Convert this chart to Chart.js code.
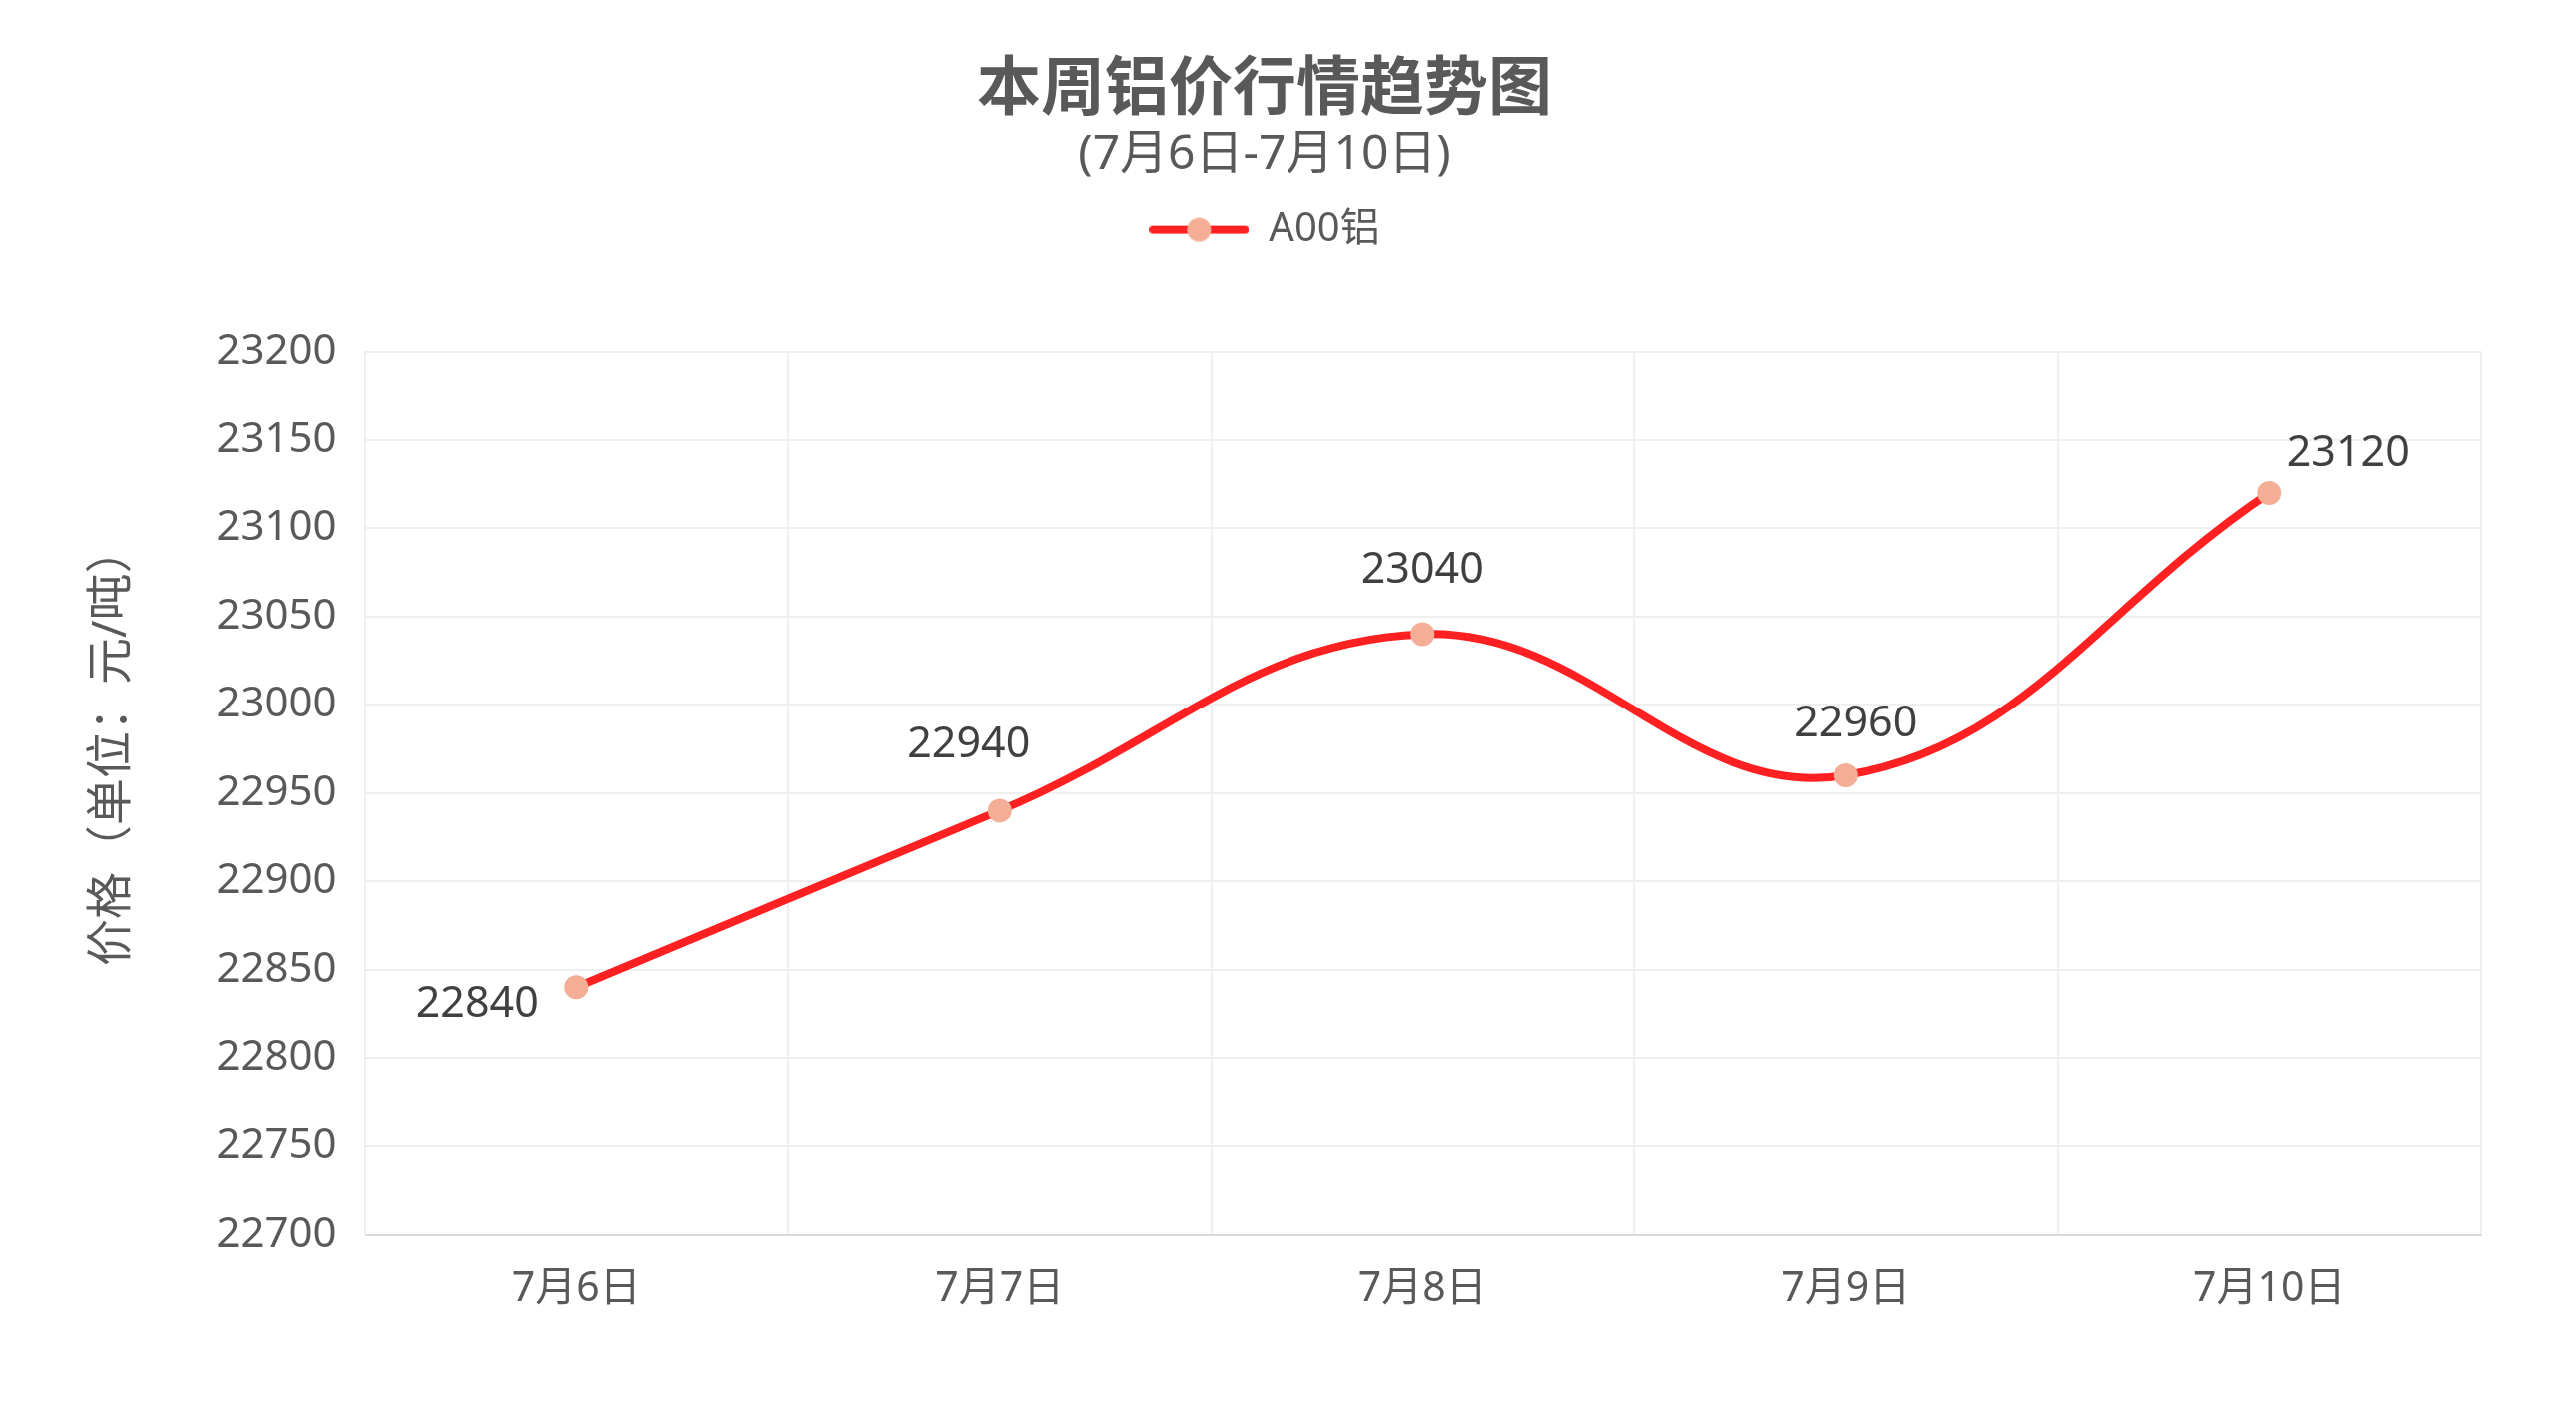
<!DOCTYPE html>
<html>
<head>
<meta charset="utf-8">
<script src="https://cdn.jsdelivr.net/npm/chart.js@4.4.1/dist/chart.umd.min.js"></script>
<style>
  html, body { margin: 0; padding: 0; background: #fff; }
</style>
</head>
<body>
<canvas id="priceChart" width="2577" height="1417"></canvas>
<script>
// chart data
const days = ['7月6日', '7月7日', '7月8日', '7月9日', '7月10日'];
const a00Prices = [22840, 22940, 23040, 22960, 23120];
const yMin = 22700;
const yMax = 23200;
const yStep = 50;

const FONT = "'Noto Sans', 'Noto Sans CJK SC', sans-serif";
const GREY = '#595959';
const RED = '#FF2121';
const SALMON = '#F4AE96';

// legend icon: red line with a salmon dot
const legendIcon = document.createElement('canvas');
legendIcon.width = 100;
legendIcon.height = 26;
(function() {
    const c = legendIcon.getContext('2d');
    c.strokeStyle = RED;
    c.lineWidth = 8;
    c.lineCap = 'round';
    c.beginPath();
    c.moveTo(4, 13);
    c.lineTo(96, 13);
    c.stroke();
    c.fillStyle = SALMON;
    c.beginPath();
    c.arc(50, 13, 12, 0, Math.PI * 2);
    c.fill();
})();

// value labels next to each point (offsets in px)
const labelOffsets = [[-99, 18], [-31, -66], [0, -64], [10, -51], [79, -39]];
const valueLabels = {
    id: 'valueLabels',
    afterDatasetsDraw(chart) {
        const ctx = chart.ctx;
        const meta = chart.getDatasetMeta(0);
        ctx.save();
        ctx.font = '43px ' + FONT;
        ctx.fillStyle = '#404040';
        ctx.textAlign = 'center';
        ctx.textBaseline = 'middle';
        meta.data.forEach((pt, i) => {
            const off = labelOffsets[i] || [0, -50];
            ctx.fillText(String(chart.data.datasets[0].data[i]), pt.x + off[0], pt.y + off[1]);
        });
        ctx.restore();
    }
};

// extra room under the legend
const legendGap = {
    id: 'legendGap',
    beforeInit(chart) {
        const fit = chart.legend.fit;
        chart.legend.fit = function() {
            fit.bind(chart.legend)();
            this.height += 92;
        };
    }
};

new Chart(document.getElementById('priceChart'), {
    type: 'line',
    data: {
        labels: days,
        datasets: [{
            label: 'A00铝',
            data: a00Prices,
            borderColor: RED,
            borderWidth: 8,
            tension: 0.4,
            pointRadius: 12,
            pointHoverRadius: 12,
            pointBackgroundColor: SALMON,
            pointBorderColor: SALMON,
            pointBorderWidth: 0
        }]
    },
    options: {
        responsive: false,
        animation: false,
        layout: {
            padding: { left: 48, right: 95, top: 0, bottom: 72 }
        },
        plugins: {
            title: {
                display: true,
                text: '本周铝价行情趋势图',
                color: GREY,
                font: { family: FONT, size: 64, weight: 'bold', lineHeight: 1.2 },
                padding: { top: 52, bottom: 0 }
            },
            subtitle: {
                display: true,
                text: '(7月6日-7月10日)',
                color: GREY,
                font: { family: FONT, size: 48, lineHeight: 1.1 },
                padding: { top: 0, bottom: 18 }
            },
            legend: {
                display: true,
                labels: {
                    color: GREY,
                    font: { family: FONT, size: 40 },
                    usePointStyle: true,
                    pointStyleWidth: 100,
                    padding: 10,
                    generateLabels(chart) {
                        return Chart.defaults.plugins.legend.labels.generateLabels(chart).map(l => {
                            l.pointStyle = legendIcon;
                            return l;
                        });
                    }
                }
            },
            tooltip: { enabled: false }
        },
        scales: {
            x: {
                offset: true,
                grid: { offset: true, color: '#EFEFEF', lineWidth: 2, drawTicks: false },
                border: { color: '#D9D9D9', width: 2 },
                ticks: {
                    color: GREY,
                    padding: 30,
                    font: { family: FONT, size: 41, lineHeight: 1.2 }
                }
            },
            y: {
                min: yMin,
                max: yMax,
                grid: { color: '#EFEFEF', lineWidth: 2, drawTicks: false },
                border: { color: '#EFEFEF', width: 2 },
                ticks: {
                    stepSize: yStep,
                    color: GREY,
                    padding: 28,
                    font: { family: FONT, size: 42, lineHeight: 1.2 },
                    callback: v => String(v)
                },
                title: {
                    display: true,
                    // leading ideographic spaces nudge the title up, as in the original
                    text: '\u3000\u3000价格（单位：元/吨）',
                    color: GREY,
                    font: { family: FONT, size: 47, lineHeight: 1.2 },
                    padding: { top: 36, bottom: 48 }
                }
            }
        }
    },
    plugins: [valueLabels, legendGap]
});
</script>
</body>
</html>
